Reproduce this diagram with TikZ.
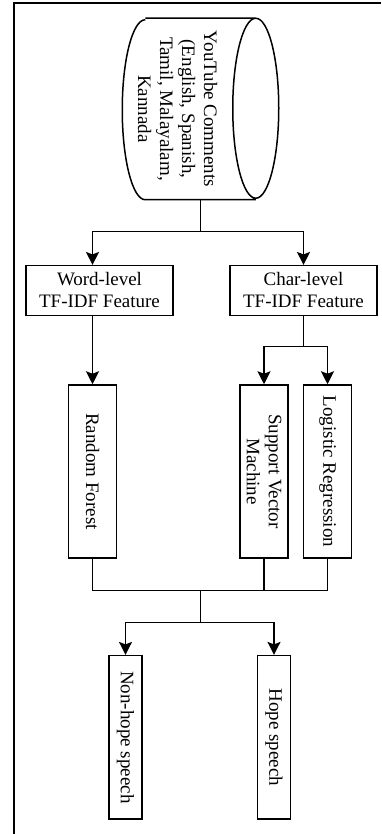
\documentclass[tikz,border=0pt]{standalone}
\usepackage{fontspec}
\setmainfont{Liberation Serif}
\usepackage{tikz}
\usetikzlibrary{arrows.meta,positioning}

\begin{document}
\begin{tikzpicture}[x=1pt,y=1pt,line width=1.5pt,
        >={Stealth[length=13pt,width=13pt,inset=2.5pt]},
        every node/.style={font=\fontsize{19}{22}\selectfont},
        feat/.style={draw,align=center,minimum width=147pt,minimum height=49.6pt,inner sep=2pt},
        model/.style={draw,rotate=-90,align=center,minimum width=173pt,minimum height=48pt,inner sep=2pt},
        result/.style={draw,rotate=-90,minimum width=163.3pt,minimum height=32.6pt,inner sep=2pt}]
        \useasboundingbox (0,0) rectangle (381,834);
        \draw[line width=2pt] (381,831) -- (14,831) -- (14,0);
        \node[minimum width=155pt,minimum height=180pt,inner sep=0pt] (db) at (200.5,725) {};
        \draw ([xshift=23pt]db.north west) -- ([xshift=-23pt]db.north east)
            arc[start angle=90,end angle=450,x radius=23pt,y radius=90pt]
            ([xshift=-23pt]db.south east) -- ([xshift=23pt]db.south west)
            arc[start angle=270,end angle=90,x radius=23pt,y radius=90pt];
        \node[rotate=-90,align=center,inner sep=0pt] (dbtext) at (177.5,725)
            {YouTube Comments\\(English, Spanish,\\Tamil, Malayalam,\\Kannada};
        \coordinate (split) at (200.5,602.3);
        \node[feat] (word) at (99.5,543.5) {Word-level\\TF-IDF Feature};
        \node[feat] (char) at (303.5,543.5) {Char-level\\TF-IDF Feature};
        \node[model] (rf) at (92.5,362.5) {Random Forest};
        \node[model] (svm) at (264,362.5) {Support Vector\\Machine};
        \node[model] (lr) at (327.5,362.5) {Logistic Regression};
        \coordinate (csplit) at (303.5,487.3);
        \coordinate (join) at (200.5,243.3);
        \coordinate (osplit) at (200.5,211.3);
        \node[result] (nonhope) at (125.5,96.7) {Non-hope speech};
        \node[result] (hope) at (274,96.7) {Hope speech};
        \draw (db.south) -- (split);
        \draw[->] (split) -| (word.north -| rf);
        \draw[->] (split) -| (char);
        \draw[->] (word.south -| rf) -- (rf);
        \draw (char) -- (csplit);
        \draw[->] (csplit) -| (svm);
        \draw[->] (csplit) -| (lr);
        \draw (rf) |- (join);
        \draw (svm) -- (svm |- join);
        \draw (lr) |- (join);
        \draw (join) -- (osplit);
        \draw[->] (osplit) -| (nonhope);
        \draw[->] (osplit) -| (hope);
\end{tikzpicture}
\end{document}
